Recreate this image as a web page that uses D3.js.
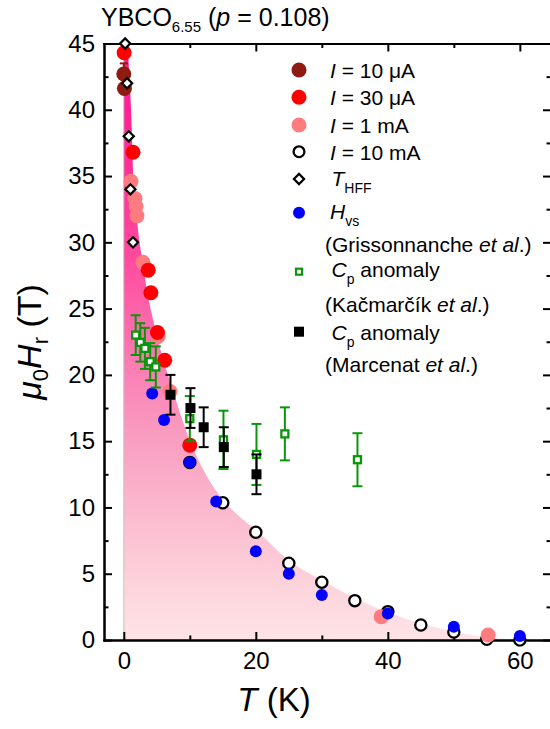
<!DOCTYPE html>
<html><head><meta charset="utf-8">
<script src="https://cdn.jsdelivr.net/npm/d3@7"></script>
<style>
body{margin:0;background:#fff}
svg{display:block}
text{font-family:"Liberation Sans",Arial,sans-serif;fill:#000}
</style>
</head><body>
<svg id="chart" width="550" height="729"></svg>
<script>
// ---------- data ----------
const xMajorTicks = [0, 20, 40, 60];
const xMinorTicks = [10, 30, 50];
const yMajorTicks = [0, 5, 10, 15, 20, 25, 30, 35, 40, 45];
const yMinorTicks = [2.5, 7.5, 12.5, 17.5, 22.5, 27.5, 32.5, 37.5, 42.5];

// shaded region boundary
const boundaryT = [0, 0.5, 0.9, 1.1, 1.35, 1.8, 2.2, 2.8, 3.5, 4.7, 6.0, 7.4, 9.0, 10.2, 11.0, 13.0, 15.0, 18.0, 20.0, 25.0, 30.0, 35.0, 40.0, 45.0, 50.0, 55.0, 60.0, 63.0];
const boundaryH = [45, 45, 42, 40, 36, 33, 30.7, 28.7, 26.4, 23.6, 21.1, 18.9, 16.4, 14.8, 13.9, 12.0, 10.6, 9.1, 8.3, 6.0, 4.5, 3.15, 2.1, 1.25, 0.65, 0.2, 0.03, 0];

// I = 10 uA
const tDarkRed = [0.0, 0.1];
const hDarkRed = [42.7, 41.6];
const eDarkRed = [0.8, 0];
// I = 30 uA
const tRed = [0.05, 1.4, 3.7, 4.1, 5.1, 6.2, 10.0];
const hRed = [44.3, 36.8, 27.9, 26.2, 23.2, 21.1, 14.7];
// I = 1 mA
const tPink = [1.1, 1.7, 1.85, 2.0, 2.9, 5.2, 7.0, 39.0, 55.2];
const hPink = [34.6, 33.3, 32.7, 32.0, 28.5, 22.9, 18.75, 1.76, 0.38];
// I = 10 mA
const tOpen = [10, 15, 20, 25, 30, 35, 40, 45, 50, 55, 60];
const hOpen = [13.4, 10.35, 8.13, 5.79, 4.36, 2.97, 2.14, 1.13, 0.6, 0.05, 0.0];
// T_HFF
const tDiamond = [0.2, 0.5, 0.75, 1.0, 1.4];
const hDiamond = [45, 42, 38, 34, 30];
// H_vs (Grissonnanche et al.)
const tBlue = [4.3, 6.1, 10, 14, 20, 25, 30, 40, 50, 60];
const hBlue = [18.6, 16.6, 13.4, 10.45, 6.7, 5.0, 3.4, 2.0, 1.0, 0.3];
// Cp anomaly (Kacmarcik et al.)
const tGreen = [1.8, 2.5, 3.2, 4.0, 4.85, 10, 15.1, 20.1, 24.4, 35.4];
const hGreen = [23.0, 22.45, 22.0, 21.0, 20.6, 16.7, 15.1, 14.0, 15.55, 13.6];
const eGreen = [1.5, 1.45, 1.55, 1.4, 1.55, 1.7, 2.2, 2.3, 2.0, 2.0];
// Cp anomaly (Marcenat et al.)
const tBlack = [7.07, 10.1, 12.1, 15.15, 20.1];
const hBlack = [18.5, 17.5, 16.05, 14.55, 12.5];
const eBlack = [1.5, 1.5, 1.5, 1.5, 1.5];

// ---------- colours ----------
const cDarkRed = "#8e1b12", cRed = "#ff0000", cPink = "#ff7b7f", cBlue = "#0000ff", cGreen = "#0a960a";

const svg = d3.select("#chart");
const x = d3.scaleLinear().domain([-3, 64.72]).range([104, 551]);
const y = d3.scaleLinear().domain([0, 45]).range([640, 43.5]);

// gradient
const defs = svg.append("defs");
const grad = defs.append("linearGradient").attr("id", "pinkGrad")
  .attr("gradientUnits", "userSpaceOnUse")
  .attr("x1", 0).attr("x2", 0).attr("y1", y(45)).attr("y2", y(0));
[[0, "#ff1490"], [0.2, "#ff2e96"], [0.36, "#ff4a9e"], [0.5, "#fc72b0"], [0.66, "#f99dc0"], [0.8, "#fbbdd0"], [0.93, "#fdd8de"], [1, "#fee3e7"]]
  .forEach(s => grad.append("stop").attr("offset", s[0]).attr("stop-color", s[1]));

// shaded area
const boundary = d3.zip(boundaryT, boundaryH);
svg.append("path").datum(boundary)
  .attr("d", d3.area().x(d => x(d[0])).y0(y(0)).y1(d => y(d[1])).curve(d3.curveMonotoneX))
  .attr("fill", "url(#pinkGrad)");
svg.append("line").attr("x1", x(0)).attr("x2", x(0)).attr("y1", y(0)).attr("y2", y(45))
  .attr("stroke", "#c4c4c4").attr("stroke-width", 1);

// ---------- axes ----------
function styleAxis(sel) {
  sel.selectAll("path").attr("stroke", "#000").attr("stroke-width", 2).attr("stroke-linecap", "square");
  sel.selectAll("line").attr("stroke", "#000").attr("stroke-width", 2);
  sel.selectAll("text").attr("font-size", 24).attr("font-family", "Liberation Sans, Arial, sans-serif").attr("fill", "#000");
}
svg.append("g").attr("transform", "translate(0,640)")
  .call(d3.axisBottom(x).tickValues(xMinorTicks).tickFormat("").tickSize(-4.5).tickSizeOuter(0)).call(styleAxis);
svg.append("g").attr("transform", "translate(0,640)")
  .call(d3.axisBottom(x).tickValues(xMajorTicks).tickFormat(d3.format("d")).tickSize(-8).tickSizeOuter(0).tickPadding(12)).call(styleAxis);
svg.append("g").attr("transform", "translate(0,43.5)")
  .call(d3.axisTop(x).tickValues(xMinorTicks).tickFormat("").tickSize(-4.5).tickSizeOuter(0)).call(styleAxis);
svg.append("g").attr("transform", "translate(0,43.5)")
  .call(d3.axisTop(x).tickValues(xMajorTicks).tickFormat("").tickSize(-8).tickSizeOuter(0)).call(styleAxis);
svg.append("g").attr("transform", "translate(104,0)")
  .call(d3.axisLeft(y).tickValues(yMinorTicks).tickFormat("").tickSize(-4.5).tickSizeOuter(0)).call(styleAxis);
svg.append("g").attr("transform", "translate(104,0)")
  .call(d3.axisLeft(y).tickValues(yMajorTicks).tickFormat(d3.format("d")).tickSize(-8).tickSizeOuter(0).tickPadding(9)).call(styleAxis);
svg.append("g").attr("transform", "translate(551,0)")
  .call(d3.axisRight(y).tickValues(yMinorTicks).tickFormat("").tickSize(-4.5).tickSizeOuter(0)).call(styleAxis);
svg.append("g").attr("transform", "translate(551,0)")
  .call(d3.axisRight(y).tickValues(yMajorTicks).tickFormat("").tickSize(-8).tickSizeOuter(0)).call(styleAxis);

// ---------- marks ----------
const plot = svg.append("g");
function circles(ts, hs, r, fill, stroke, sw) {
  plot.append("g").selectAll("circle").data(d3.zip(ts, hs)).join("circle")
    .attr("cx", d => x(d[0])).attr("cy", d => y(d[1])).attr("r", r)
    .attr("fill", fill).attr("stroke", stroke).attr("stroke-width", sw);
}
function errorBars(ts, hs, es, color, cap) {
  const g = plot.append("g").attr("stroke", color).attr("stroke-width", 2);
  d3.zip(ts, hs, es).forEach(([t, h, e]) => {
    if (!e) return;
    g.append("line").attr("x1", x(t)).attr("x2", x(t)).attr("y1", y(h - e)).attr("y2", y(h + e));
    g.append("line").attr("x1", x(t) - cap).attr("x2", x(t) + cap).attr("y1", y(h + e)).attr("y2", y(h + e));
    g.append("line").attr("x1", x(t) - cap).attr("x2", x(t) + cap).attr("y1", y(h - e)).attr("y2", y(h - e));
  });
}
function squares(ts, hs, s, fill, stroke, sw) {
  plot.append("g").selectAll("rect").data(d3.zip(ts, hs)).join("rect")
    .attr("x", d => x(d[0]) - s / 2).attr("y", d => y(d[1]) - s / 2).attr("width", s).attr("height", s)
    .attr("fill", fill).attr("stroke", stroke).attr("stroke-width", sw);
}
const diamondPath = d3.symbol(d3.symbolSquare, 52);

circles(tOpen, hOpen, 5.6, "#fff", "#000", 2.3);
circles(tPink, hPink, 7.5, cPink, "none", 0);
circles(tRed, hRed, 7.5, cRed, "none", 0);
errorBars(tDarkRed, hDarkRed, eDarkRed, cDarkRed, 4);
circles(tDarkRed, hDarkRed, 7.5, cDarkRed, "none", 0);
circles(tBlue, hBlue, 6, cBlue, "none", 0);
errorBars(tGreen, hGreen, eGreen, cGreen, 5);
squares(tGreen, hGreen, 7, "#fff", cGreen, 2.3);
errorBars(tBlack, hBlack, eBlack, "#000", 5);
squares(tBlack, hBlack, 10, "#000", "none", 0);
plot.append("g").selectAll("path").data(d3.zip(tDiamond, hDiamond)).join("path")
  .attr("d", diamondPath)
  .attr("transform", d => `translate(${x(d[0])},${y(d[1])}) rotate(45)`)
  .attr("fill", "#fff").attr("stroke", "#000").attr("stroke-width", 2.2);

// ---------- legend ----------
const lg = svg.append("g");
const lx = 299, tx = 330, fs = 21;
function ltext(xp, yp) { return lg.append("text").attr("x", xp).attr("y", yp).attr("font-size", fs); }
function iRow(cy, label) {
  const t = ltext(tx, cy + 8);
  t.append("tspan").attr("font-style", "italic").text("I");
  t.append("tspan").text(" = " + label);
}
lg.append("circle").attr("cx", lx).attr("cy", 70).attr("r", 7.5).attr("fill", cDarkRed);
iRow(70, "10 μA");
lg.append("circle").attr("cx", lx).attr("cy", 97.3).attr("r", 7.5).attr("fill", cRed);
iRow(97.3, "30 μA");
lg.append("circle").attr("cx", lx).attr("cy", 125).attr("r", 7.5).attr("fill", cPink);
iRow(125, "1 mA");
lg.append("circle").attr("cx", lx).attr("cy", 151.7).attr("r", 5.4).attr("fill", "#fff").attr("stroke", "#000").attr("stroke-width", 2.3);
iRow(151.7, "10 mA");
lg.append("path").attr("d", diamondPath).attr("transform", `translate(${lx},179) rotate(45)`)
  .attr("fill", "#fff").attr("stroke", "#000").attr("stroke-width", 2.2);
{
  const t = ltext(331.5, 186);
  t.append("tspan").attr("font-style", "italic").text("T");
  t.append("tspan").attr("font-size", 14).attr("dy", 7).text("HFF");
}
lg.append("circle").attr("cx", lx).attr("cy", 212.7).attr("r", 6).attr("fill", cBlue);
{
  const t = ltext(330, 219.3);
  t.append("tspan").attr("font-style", "italic").text("H");
  t.append("tspan").attr("font-size", 14).attr("dy", 7).text("vs");
}
function refRow(yp, name) {
  const t = ltext(325, yp);
  t.append("tspan").text("(" + name + " ");
  t.append("tspan").attr("font-style", "italic").text("et al");
  t.append("tspan").text(".)");
}
refRow(251.7, "Grissonnanche");
lg.append("rect").attr("x", lx - 3).attr("y", 271.7 - 3).attr("width", 6).attr("height", 6)
  .attr("fill", "#fff").attr("stroke", cGreen).attr("stroke-width", 2.2);
function cpRow(yp) {
  const t = ltext(331.5, yp);
  t.append("tspan").attr("font-style", "italic").text("C");
  t.append("tspan").attr("font-size", 14).attr("dy", 7).text("p");
  t.append("tspan").attr("dy", -7).text(" anomaly");
}
cpRow(277.3);
refRow(312.3, "Kačmarčík");
lg.append("rect").attr("x", lx - 5).attr("y", 331.7 - 5).attr("width", 10).attr("height", 10).attr("fill", "#000");
cpRow(340);
refRow(371.7, "Marcenat");

// ---------- titles ----------
{
  const t = svg.append("text").attr("x", 101).attr("y", 26).attr("font-size", 25);
  t.append("tspan").text("YBCO");
  t.append("tspan").attr("font-size", 15).attr("dy", 6).text("6.55");
  t.append("tspan").attr("dy", -6).text(" (");
  t.append("tspan").attr("font-style", "italic").text("p");
  t.append("tspan").text(" = 0.108)");
}
{
  const t = svg.append("text").attr("x", 274).attr("y", 711).attr("font-size", 33).attr("text-anchor", "middle");
  t.append("tspan").attr("font-style", "italic").text("T");
  t.append("tspan").text(" (K)");
}
{
  const t = svg.append("text").attr("transform", "translate(41,342) rotate(-90)").attr("font-size", 34).attr("text-anchor", "middle");
  t.append("tspan").attr("font-style", "italic").text("μ");
  t.append("tspan").attr("font-size", 22).attr("dy", 7).text("0");
  t.append("tspan").attr("font-style", "italic").attr("dy", -7).text("H");
  t.append("tspan").attr("font-size", 22).attr("dy", 7).text("r");
  t.append("tspan").attr("dy", -7).text(" (T)");
}
</script>
</body></html>
